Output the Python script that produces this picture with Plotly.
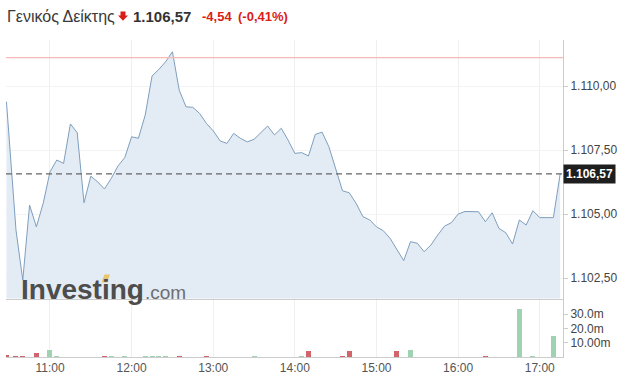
import plotly.graph_objects as go
import pandas as pd

# ---------------- data ----------------
session_date = "2023-05-10"
time_labels = ["10:28"] + list(
    pd.date_range(f"{session_date} 10:35", f"{session_date} 17:15", freq="5min").strftime("%H:%M")
)
times = [f"{session_date} {t}" for t in time_labels]

close = [
    1109.39, 1104.38, 1102.42, 1105.35, 1104.50, 1105.42,
    1106.65, 1107.11, 1106.98, 1108.52, 1108.18, 1105.44, 1106.48, 1106.26, 1105.98, 1106.39, 1106.88, 1107.21,
    1108.02, 1107.96, 1108.87, 1110.39, 1110.65, 1110.95, 1111.34, 1109.84, 1109.19, 1109.17, 1108.93, 1108.54,
    1108.25, 1107.86, 1107.76, 1108.15, 1107.96, 1107.82, 1107.92, 1108.18, 1108.44, 1108.09, 1108.35, 1107.89,
    1107.37, 1107.40, 1107.27, 1108.11, 1108.20, 1107.63, 1106.72, 1105.91, 1105.83, 1105.42, 1104.90, 1104.77,
    1104.50, 1104.35, 1104.05, 1103.59, 1103.18, 1103.92, 1103.86, 1103.53, 1103.79, 1104.18, 1104.53, 1104.66,
    1105.00, 1105.10, 1105.09, 1105.09, 1104.70, 1105.05, 1104.44, 1104.27, 1103.83, 1104.77, 1104.57, 1105.13,
    1104.86, 1104.86, 1104.86, 1106.57,
]

volume_m = [
    1.6, 0.15, 0.15, 0, 2.6, 0,
    5.2, 0.15, 0, 0, 0, 0, 0, 0, 0.15, 0.15, 0, 0.5,
    0, 0, 0.15, 0.15, 0.15, 0.15, 0, 0.15, 0, 0, 0, 0.15,
    0, 0, 0, 0, 0, 0, 0.15, 0, 0, 0, 0, 0,
    0, 0.15, 4.0, 0, 0, 0, 0, 0.15, 4.0, 0, 0, 0,
    0, 0, 0, 4.5, 0, 5.2, 0, 0, 0, 0, 0, 0,
    0, 0, 0, 0, 0.15, 0, 0, 0, 0, 33.4, 0, 0.15,
    0, 0, 14.8, 0,
]

prev_close = 1111.11
price_ticks = [1102.5, 1105.0, 1107.5, 1110.0]
vol_ticks = [10, 20, 30]
vol_tick_text = ["10.00m", "20.0m", "30.0m"]
index_name = "Γενικός Δείκτης"

# ---------------- derived ----------------
last = close[-1]
change = last - prev_close
change_pct = change / prev_close * 100


def gr(v, nd=2):
    s = f"{v:,.{nd}f}"
    return s.replace(",", "X").replace(".", ",").replace("X", ".")


GREEN = "#9fd2b1"
RED = "#d2656b"
bar_colors = []
for i, v in enumerate(close):
    ref = prev_close if i == 0 else close[i - 1]
    bar_colors.append(GREEN if v >= ref else RED)

# ---------------- layout geometry ----------------
W, H = 626, 388
ML, MR, MT, MB = 6, 63, 40, 31
PW, PH = W - ML - MR, H - MT - MB


def px_x(px):
    return (px - ML) / PW


def px_y(py):
    return (H - MB - py) / PH


FONT = "Liberation Sans, Arial, sans-serif"

fig = go.Figure()
fig.add_trace(go.Scatter(
    x=times, y=close, mode="lines",
    line=dict(color="#7e9ebd", width=1),
    fill="tozeroy", fillcolor="#e3ebf4",
    xaxis="x", yaxis="y", hoverinfo="skip", showlegend=False,
))
fig.add_trace(go.Bar(
    x=times, y=volume_m, marker=dict(color=bar_colors, line=dict(width=0)),
    width=220000, xaxis="x2", yaxis="y2", hoverinfo="skip", showlegend=False,
))

x_range = [f"{session_date} 10:27:40", f"{session_date} 17:17:05"]
grid = "#efefef"
axis_line = "#cccccc"

fig.update_layout(
    width=W, height=H,
    margin=dict(l=ML, r=MR, t=MT, b=MB, pad=0),
    paper_bgcolor="white", plot_bgcolor="white",
    separators=",.",
    font=dict(family=FONT, color="#333333", size=12),
    bargap=0,
    xaxis=dict(
        domain=[0, 1], anchor="y", range=x_range, type="date",
        tick0=f"{session_date} 11:00", dtick=3600000,
        showgrid=True, gridcolor=grid, gridwidth=1,
        showticklabels=False, ticks="", zeroline=False,
        showline=True, linecolor=axis_line, linewidth=1,
    ),
    xaxis2=dict(
        domain=[0, 1], anchor="y2", matches="x", range=x_range, type="date",
        tick0=f"{session_date} 11:00", dtick=3600000, tickformat="%H:%M",
        showgrid=True, gridcolor=grid, gridwidth=1,
        tickfont=dict(size=12, color="#555555", family=FONT),
        ticks="", zeroline=False,
        showline=True, linecolor=axis_line, linewidth=1,
    ),
    yaxis=dict(
        domain=[0.1845, 1], anchor="x", side="right",
        range=[1101.70, 1111.80], tickvals=price_ticks, tickformat=",.2f",
        showgrid=True, gridcolor="#f3f3f3", zeroline=False,
        showline=True, linecolor=axis_line, linewidth=1,
        ticks="outside", ticklen=4, tickcolor=axis_line,
        tickfont=dict(size=12, color="#444444", family=FONT),
    ),
    yaxis2=dict(
        domain=[0, 0.1798], anchor="x2", side="right",
        range=[0, 40], tickvals=vol_ticks, ticktext=vol_tick_text,
        showgrid=False, zeroline=False,
        showline=True, linecolor=axis_line, linewidth=1,
        ticks="outside", ticklen=4, tickcolor=axis_line,
        tickfont=dict(size=12, color="#444444", family=FONT),
    ),
)

# previous close & last price lines
fig.add_shape(type="line", xref="paper", yref="y", x0=0, x1=1, y0=prev_close, y1=prev_close,
              line=dict(color="#f6b8b8", width=1.2))
fig.add_shape(type="line", xref="paper", yref="y", x0=0, x1=1, y0=last, y1=last,
              line=dict(color="#666666", width=1.3, dash="6px,4px"))

# last price label box
fig.add_annotation(
    x=1, xref="paper", xanchor="left", y=last, yref="y", yanchor="middle",
    text=f"<b>{gr(last)}</b>", showarrow=False,
    font=dict(size=12, color="white", family=FONT),
    bgcolor="#1e1e1e", borderpad=2,
)

# header
head_y = px_y(16)
fig.add_annotation(x=px_x(4.5), y=head_y, xref="paper", yref="paper", xanchor="left", yanchor="middle",
                   text=index_name, showarrow=False, font=dict(size=16, color="#3a3a3a", family=FONT))
fig.add_annotation(x=px_x(131), y=head_y, xref="paper", yref="paper", xanchor="left", yanchor="middle",
                   text=f"<b>{gr(last)}</b>", showarrow=False, font=dict(size=15, color="#333333", family=FONT))
fig.add_annotation(x=px_x(200), y=head_y, xref="paper", yref="paper", xanchor="left", yanchor="middle",
                   text=f"<b>{gr(change)}</b>", showarrow=False, font=dict(size=13, color="#d91e18", family=FONT))
fig.add_annotation(x=px_x(236), y=head_y, xref="paper", yref="paper", xanchor="left", yanchor="middle",
                   text=f"<b>({gr(change_pct)}%)</b>", showarrow=False, font=dict(size=13, color="#d91e18", family=FONT))

# down arrow icon
ax = [px_x(v) for v in (120.5, 125.5, 125.5, 128, 123, 118, 120.5)]
ay = [px_y(v) for v in (11.5, 11.5, 15.5, 15.5, 20.8, 15.5, 15.5)]
path = "M " + " L ".join(f"{a},{b}" for a, b in zip(ax, ay)) + " Z"
fig.add_shape(type="path", xref="paper", yref="paper", path=path,
              fillcolor="#d91e18", line=dict(width=0))

# watermark
fig.add_annotation(x=px_x(19), y=px_y(289), xref="paper", yref="paper", xanchor="left", yanchor="middle",
                   text="<b>Investing</b>", showarrow=False, font=dict(size=28, color="#4d4d4d", family=FONT))
fig.add_annotation(x=px_x(143), y=px_y(292), xref="paper", yref="paper", xanchor="left", yanchor="middle",
                   text=".com", showarrow=False, font=dict(size=19, color="#6f6f6f", family=FONT))
gx = [px_x(v) for v in (101.5, 104.5, 110.0, 107.0)]
gy = [px_y(v) for v in (282.5, 274.5, 274.5, 282.5)]
gpath = "M " + " L ".join(f"{a},{b}" for a, b in zip(gx, gy)) + " Z"
fig.add_shape(type="path", xref="paper", yref="paper", path=gpath,
              fillcolor="#e8c46a", line=dict(width=0))

fig.write_html("out.html")
